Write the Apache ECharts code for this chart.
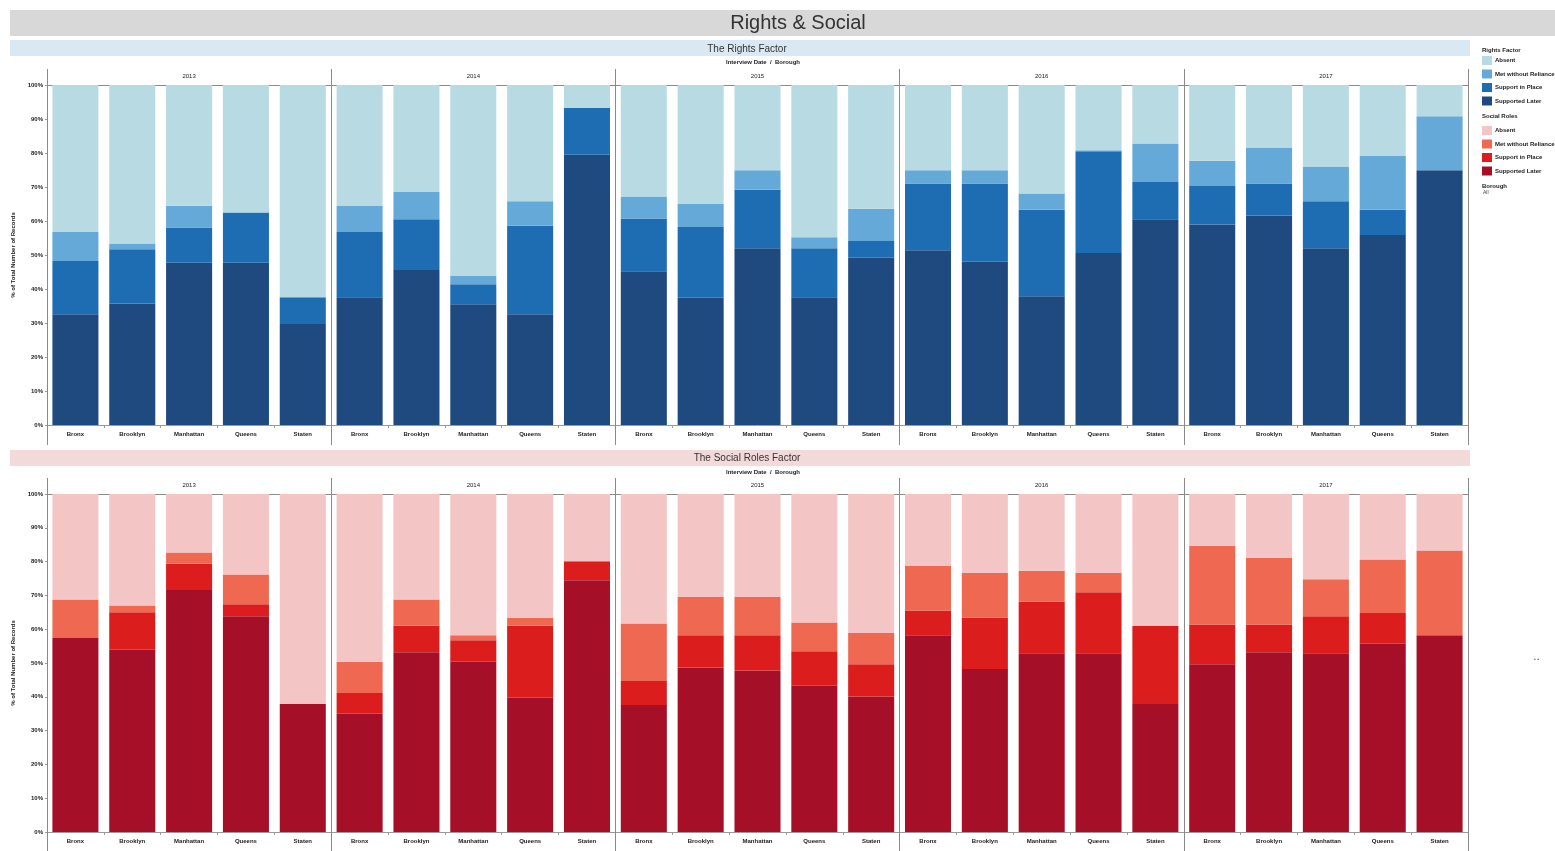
<!DOCTYPE html>
<html>
<head>
<meta charset="utf-8">
<title>Rights & Social</title>
<script src="https://cdn.jsdelivr.net/npm/echarts@6/dist/echarts.min.js"></script>
<style>
  html, body { margin: 0; padding: 0; background: #ffffff; }
  #chart { width: 1555px; height: 851px; }
</style>
</head>
<body>
<div id="chart"></div>
<script>
// Interview years and boroughs (one bar per borough per year)
const years = ['2013', '2014', '2015', '2016', '2017'];
const boroughs = ['Bronx', 'Brooklyn', 'Manhattan', 'Queens', 'Staten'];
const levels = ['Absent', 'Met without Reliance', 'Support in Place', 'Supported Later'];
const yTicks = [0, 10, 20, 30, 40, 50, 60, 70, 80, 90, 100];

// Rights factor: % of records per level, bars ordered year by year, Bronx..Staten
const rightsSupportedLater = [32.6, 35.7, 47.7, 47.7, 29.7,  37.6, 45.6, 35.5, 32.6, 79.5,  45.2, 37.4, 52.0, 37.6, 49.2,  51.4, 48.0, 37.9, 50.6, 60.5,  59.0, 61.6, 52.0, 55.9, 74.9];
const rightsSupportInPlace = [15.6, 16.0, 10.4, 14.7, 7.9,   19.2, 14.9, 5.9, 26.0, 13.7,   15.5, 20.8, 17.2, 14.4, 4.9,   19.6, 23.0, 25.4, 29.9, 11.0,  11.3, 9.4, 13.8, 7.4, 0];
const rightsMetWithout     = [8.6, 1.7, 6.4, 0.2, 0,         7.6, 8.0, 2.4, 7.2, 0,         6.5, 6.8, 5.7, 3.2, 9.5,       3.9, 3.9, 4.8, 0.3, 11.3,      7.4, 10.6, 10.2, 15.8, 15.9];
const rightsAbsent         = [43.2, 46.6, 35.5, 37.4, 62.4,  35.6, 31.5, 56.2, 34.2, 6.8,   32.8, 35.0, 25.1, 44.8, 36.4,  25.1, 25.1, 31.9, 19.2, 17.2,  22.3, 18.4, 24.0, 20.9, 9.2];

// Social roles factor: % of records per level, same bar order
const socialSupportedLater = [57.4, 53.9, 71.6, 63.8, 37.9,  35.0, 53.2, 50.4, 39.7, 74.5,  37.6, 48.7, 47.8, 43.3, 40.1,  58.2, 48.2, 52.9, 52.9, 37.9,  49.6, 53.2, 52.9, 55.7, 58.2];
const socialSupportInPlace = [0, 11.1, 7.8, 3.6, 0,          6.1, 7.8, 6.3, 21.3, 5.6,      7.1, 9.5, 10.4, 10.2, 9.5,     7.3, 15.2, 15.2, 18.0, 23.1,   11.8, 8.2, 10.9, 9.1, 0];
const socialMetWithout     = [11.4, 2.0, 3.3, 8.8, 0,        9.3, 7.8, 1.5, 2.4, 0,         17.0, 11.3, 11.3, 8.5, 9.3,    13.2, 13.2, 9.2, 5.7, 0,       23.3, 19.7, 11.0, 15.8, 25.1];
const socialAbsent         = [31.2, 33.0, 17.3, 23.8, 62.1,  49.6, 31.2, 41.8, 36.6, 19.9,  38.3, 30.5, 30.5, 38.0, 41.1,  21.3, 23.4, 22.7, 23.4, 39.0,  15.3, 18.9, 25.2, 19.4, 16.7];

const blues = { 'Absent': '#b7dae3', 'Met without Reliance': '#64a9d8', 'Support in Place': '#1e6db2', 'Supported Later': '#1f4a80' };
const reds  = { 'Absent': '#f3c5c4', 'Met without Reliance': '#ef6952', 'Support in Place': '#dc1d1d', 'Supported Later': '#a60f28' };

const FONT = '"Liberation Sans", Arial, sans-serif';
const INK = '#333333';

// one category per bar: every borough, repeated for each year
const barCategories = [];
years.forEach(() => boroughs.forEach(b => barCategories.push(b)));

const rightsData = {
  'Supported Later': rightsSupportedLater,
  'Support in Place': rightsSupportInPlace,
  'Met without Reliance': rightsMetWithout,
  'Absent': rightsAbsent
};
const socialData = {
  'Supported Later': socialSupportedLater,
  'Support in Place': socialSupportInPlace,
  'Met without Reliance': socialMetWithout,
  'Absent': socialAbsent
};

// panel geometry: plot areas of the two stacked bar charts
const panels = [
  { top: 85, height: 340 },
  { top: 494, height: 338 }
];
const LEFT = 47, RIGHT = 87;

const grids = panels.map(p => ({ left: LEFT, right: RIGHT, top: p.top, height: p.height, containLabel: false }));

const xAxes = [];
const yAxes = [];
panels.forEach((p, gi) => {
  // borough labels under each bar
  xAxes.push({
    gridIndex: gi, type: 'category', data: barCategories, position: 'bottom',
    axisLine: { show: true, lineStyle: { color: '#9a9a9a', width: 1 } },
    axisTick: { show: true, length: 3, lineStyle: { color: '#9a9a9a' } },
    axisLabel: { fontSize: 6, color: '#222', fontFamily: FONT, fontWeight: 'bold', margin: 6, interval: 0 },
    splitLine: { show: false }
  });
  // year headers and the year dividers above the plot
  xAxes.push({
    gridIndex: gi, type: 'category', data: years, position: 'top',
    axisLine: { show: true, lineStyle: { color: '#8a8a8a', width: 1 } },
    axisTick: { show: true, length: 16, inside: false, lineStyle: { color: '#8a8a8a' } },
    axisLabel: { fontSize: 6, color: '#222', fontFamily: FONT, margin: 6 },
    splitLine: { show: true, lineStyle: { color: '#8a8a8a', width: 1 } }
  });
  // year dividers continued below the borough labels
  xAxes.push({
    gridIndex: gi, type: 'category', data: years, position: 'bottom',
    axisLine: { show: false },
    axisTick: { show: true, length: 20, lineStyle: { color: '#8a8a8a' } },
    axisLabel: { show: false },
    splitLine: { show: false }
  });
  yAxes.push({
    gridIndex: gi, type: 'value', min: yTicks[0], max: yTicks[yTicks.length - 1], interval: 10,
    name: '% of Total Number of Records', nameLocation: 'middle', nameRotate: 90, nameGap: 25,
    nameTextStyle: { fontSize: 6, color: '#222', fontFamily: FONT, fontWeight: 'bold' },
    axisLine: { show: false },
    axisTick: { show: true, length: 2, lineStyle: { color: '#9a9a9a' } },
    axisLabel: { fontSize: 6, color: '#222', fontFamily: FONT, fontWeight: 'bold', margin: 4, formatter: '{value}%' },
    splitLine: { show: false }
  });
});

function stackSeries(dataMap, colors, prefix, gi) {
  return ['Supported Later', 'Support in Place', 'Met without Reliance', 'Absent'].map(level => ({
    name: prefix + '|' + level,
    type: 'bar',
    stack: prefix,
    xAxisIndex: gi * 3,
    yAxisIndex: gi,
    barCategoryGap: '19%',
    itemStyle: { color: colors[level] },
    emphasis: { disabled: true },
    data: dataMap[level]
  }));
}

const series = [
  ...stackSeries(rightsData, blues, 'Rights', 0),
  ...stackSeries(socialData, reds, 'Social', 1)
];

const legendBase = {
  orient: 'vertical', left: 1477, itemWidth: 10, itemHeight: 9, itemGap: 4.5,
  icon: 'rect', selectedMode: false,
  textStyle: { fontSize: 6, color: '#222', fontFamily: FONT, fontWeight: 'bold', padding: [0, 0, 0, -2] },
  formatter: name => name.split('|')[1]
};

const option = {
  animation: false,
  backgroundColor: '#ffffff',
  graphic: [
    // header bands
    { type: 'rect', shape: { x: 10, y: 10, width: 1545, height: 26 }, style: { fill: '#d8d8d8' }, silent: true },
    { type: 'rect', shape: { x: 10, y: 40, width: 1460, height: 16 }, style: { fill: '#d9e8f3' }, silent: true },
    { type: 'rect', shape: { x: 10, y: 450, width: 1460, height: 16 }, style: { fill: '#f3dada' }, silent: true },
    { type: 'text', left: 1534, top: 657, style: { text: '• •', fontSize: 5, fill: '#555', fontFamily: FONT }, silent: true }
  ],
  title: [
    { text: 'Rights & Social', left: 793, top: 8, textAlign: 'center', textStyle: { fontSize: 20, fontWeight: 'normal', color: INK, fontFamily: FONT } },
    { text: 'The Rights Factor', left: 742, top: 39, textAlign: 'center', textStyle: { fontSize: 10, fontWeight: 'normal', color: INK, fontFamily: FONT } },
    { text: 'Interview Date  /  Borough', left: 758, top: 54, textAlign: 'center', textStyle: { fontSize: 6, fontWeight: 'bold', color: '#222', fontFamily: FONT } },
    { text: 'The Social Roles Factor', left: 742, top: 448, textAlign: 'center', textStyle: { fontSize: 10, fontWeight: 'normal', color: INK, fontFamily: FONT } },
    { text: 'Interview Date  /  Borough', left: 758, top: 464, textAlign: 'center', textStyle: { fontSize: 6, fontWeight: 'bold', color: '#222', fontFamily: FONT } },
    { text: 'Rights Factor', left: 1477, top: 42, textStyle: { fontSize: 6, fontWeight: 'bold', color: '#222', fontFamily: FONT } },
    { text: 'Social Roles', left: 1477, top: 108, textStyle: { fontSize: 6, fontWeight: 'bold', color: '#222', fontFamily: FONT } },
    { text: 'Borough', left: 1477, top: 178, textStyle: { fontSize: 6, fontWeight: 'bold', color: '#222', fontFamily: FONT } },
    { text: 'All', left: 1478, top: 185, textStyle: { fontSize: 5, fontWeight: 'normal', color: '#444', fontFamily: FONT } }
  ],
  legend: [
    Object.assign({}, legendBase, { top: 51, data: levels.map(l => 'Rights|' + l) }),
    Object.assign({}, legendBase, { top: 121, data: levels.map(l => 'Social|' + l) })
  ],
  grid: grids,
  xAxis: xAxes,
  yAxis: yAxes,
  series: series
};

const chart = echarts.init(document.getElementById('chart'), null, { renderer: 'canvas' });
chart.setOption(option);
</script>
</body>
</html>
